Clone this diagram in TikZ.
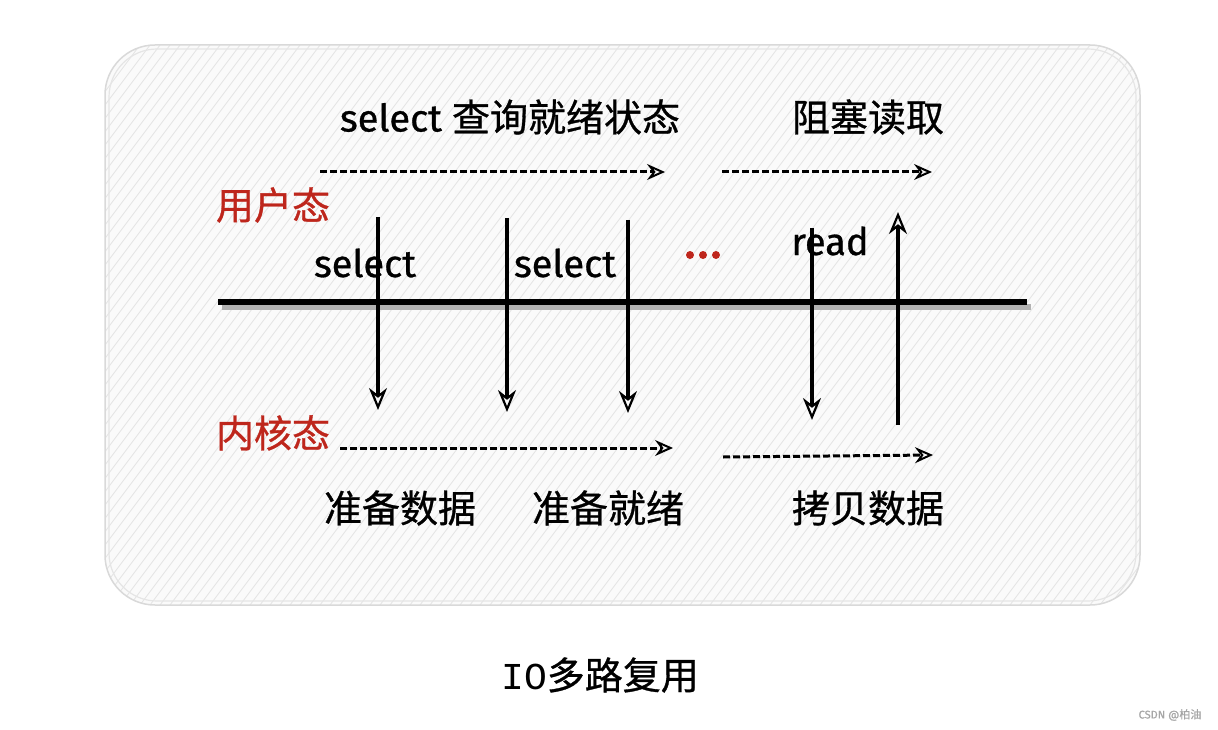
\documentclass[tikz,border=0pt]{standalone}
\usepackage{fontspec}
\setmainfont{Fira Sans}[FakeBold=0.8]
\setmonofont{Liberation Mono}
\newfontfamily\cjk{Noto Sans CJK SC}[FakeBold=0.8]
\usetikzlibrary{arrows.meta}
\definecolor{statered}{RGB}{190,38,28}
\tikzset{
  txt/.style={font=\fontsize{38}{42}\selectfont},
  redtxt/.style={txt,text=statered},
  flow/.style={line width=3pt,dash pattern=on 7pt off 3pt,-{Stealth[open,length=18pt,width=16pt,inset=6pt,line width=2pt]}},
  call/.style={line width=4pt,-{Stealth[open,length=22pt,width=18pt,inset=7pt,line width=2.2pt]}}
}
\begin{document}
\begin{tikzpicture}[x=1pt,y=-1pt]
  \useasboundingbox[fill=white] (0,0) rectangle (1218,730);
  % hatched panel
  \begin{scope}
    \clip[rounded corners=50pt] (105,45) rectangle (1140,605);
    \fill[gray!4] (105,45) rectangle (1140,605);
    \foreach \i in {100,110,...,1560}
      \draw[gray!22,line width=0.8pt] (\i-420,605) -- ++(420,-560);
  \end{scope}
  \draw[gray!30,line width=1.5pt,rounded corners=50pt] (105,45) rectangle (1140,605);
  \draw[gray!20,line width=1.2pt,rounded corners=48pt] (109,49) rectangle (1136,601);

  % boundary between user and kernel space
  \coordinate (bl) at (218,302);
  \coordinate (br) at (1027,302);
  \draw[gray!60,line width=6pt] ([shift={(4,5)}]bl) -- ([shift={(4,5)}]br);
  \draw[line width=6pt] (bl) -- (br);

  \node[redtxt] (user) at (273,205) {\cjk 用户态};
  \node[redtxt] (kernel) at (273,433) {\cjk 内核态};
  \node[txt] (query) at (510,117) {select {\cjk 查询就绪状态}};
  \node[txt] (block) at (868,117) {\cjk 阻塞读取};
  \node[txt] (sel1) at (365,263) {select};
  \node[txt] (sel2) at (565,263) {select};
  \node[txt] (rd) at (830,241) {read};
  \node[txt] (prep) at (400,508) {\cjk 准备数据};
  \node[txt] (ready) at (608,508) {\cjk 准备就绪};
  \node[txt] (copy) at (868,508) {\cjk 拷贝数据};
  \node[txt] (cap) at (600,675) {\ttfamily IO\cjk 多路复用};
  \node[text=gray!70,font=\fontsize{11}{12}\selectfont] (mark) at (1170,715) {CSDN @{\cjk 柏油}};
  \foreach \x in {690,703,716}
    \fill[statered] (\x,255) circle (4pt);

  % timelines
  \coordinate (u1) at (320,172); \coordinate (u2) at (665,172);
  \coordinate (u3) at (722,172); \coordinate (u4) at (932,172);
  \coordinate (k1) at (340,448); \coordinate (k2) at (673,448);
  \coordinate (k3) at (723,457); \coordinate (k4) at (933,455);
  \draw[flow] (u1) -- (u2);
  \draw[flow] (u3) -- (u4);
  \draw[flow] (k1) -- (k2);
  \draw[flow] (k3) -- (k4);

  % system calls
  \foreach \x/\t/\b in {378/217/410, 507/218/412, 628/220/413, 812/228/420}{
    \coordinate (s\x) at (\x,\t);
    \coordinate (e\x) at (\x,\b);
    \draw[call] (s\x) -- (e\x);
  }
  \coordinate (rb) at (898,425);
  \coordinate (rt) at (898,212);
  \draw[call] (rb) -- (rt);
\end{tikzpicture}
\end{document}
